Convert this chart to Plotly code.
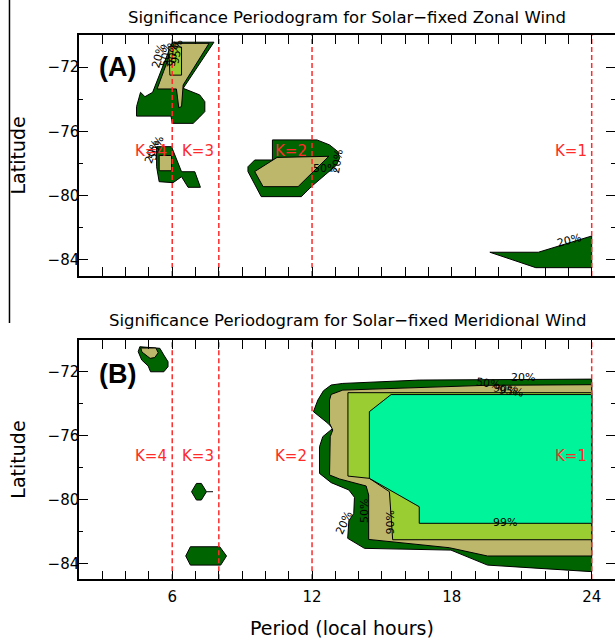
import plotly.graph_objects as go

# ---------------------------------------------------------------------------
# Data: contour polygons (period in local hours, latitude in degrees)
# Significance levels: 20% dark green, 50% khaki, 90% yellow-green, 99% spring green
# ---------------------------------------------------------------------------

# Panel A - solar-fixed zonal wind
zonal_west_20 = [(6.00, -70.45), (7.79, -70.45), (6.47, -73.32), (7.18, -73.73),
                 (7.40, -74.15), (7.40, -74.77), (7.18, -75.10), (6.90, -75.50),
                 (6.00, -75.50), (5.95, -75.05), (4.47, -75.05), (4.47, -74.46),
                 (4.64, -73.57), (4.83, -73.84), (5.16, -73.57)]
zonal_west_50 = [(6.08, -70.52), (7.58, -70.52), (6.47, -73.11), (6.40, -74.46),
                 (6.28, -74.52), (6.18, -73.36), (5.35, -73.36)]
zonal_west_90 = [(5.85, -70.75), (6.40, -70.75), (6.40, -72.50), (5.90, -72.50)]

zonal_k4_20 = [(5.33, -76.95), (5.97, -76.95), (6.40, -78.51), (6.97, -78.51),
               (7.21, -79.48), (6.68, -79.48), (6.40, -78.82), (6.04, -79.19),
               (5.44, -79.13), (5.33, -78.20)]
zonal_k4_50 = [(5.44, -77.50), (5.97, -77.50), (5.97, -78.45), (5.44, -78.45)]

zonal_k2_20 = [(10.30, -76.53), (12.21, -76.53), (12.75, -76.84), (13.11, -77.26),
               (13.18, -77.67), (13.05, -78.10), (12.00, -79.40), (11.54, -80.06),
               (9.82, -80.06), (9.25, -78.50), (9.25, -78.20), (9.54, -77.78),
               (10.30, -77.78)]
zonal_k2_50 = [(9.54, -78.50), (10.50, -77.62), (12.72, -77.55), (12.00, -78.60),
               (11.40, -79.44), (9.90, -79.44)]

zonal_k1_20 = [(19.63, -83.52), (21.71, -83.52), (24.00, -82.51), (24.00, -84.48),
               (21.60, -84.48)]

# Panel B - solar-fixed meridional wind
merid_k4_20 = [(4.61, -70.42), (5.47, -70.52), (5.64, -70.94), (5.82, -71.36),
               (5.82, -71.67), (5.64, -71.99), (5.07, -71.99), (4.97, -71.63),
               (4.69, -71.25), (4.54, -70.73)]
merid_k4_50 = [(4.65, -70.50), (5.30, -70.50), (5.40, -70.80), (5.25, -71.10),
               (5.05, -71.15), (4.85, -70.95), (4.70, -70.75)]

merid_k3a_20 = [(6.83, -79.51), (7.04, -78.99), (7.25, -78.99), (7.47, -79.51),
                (7.25, -80.03), (7.04, -80.03)]
merid_k3a_tail = [(7.47, -79.51), (7.75, -79.51)]
merid_k3b_20 = [(6.58, -83.54), (6.78, -82.96), (8.04, -82.96), (8.33, -83.54),
                (8.08, -84.11), (6.78, -84.11)]

merid_k1_20 = [(24.00, -72.45), (16.60, -72.51), (13.32, -72.72), (12.82, -72.82),
               (12.49, -73.18), (12.25, -73.76), (12.06, -74.49), (12.68, -75.22),
               (12.89, -75.54), (12.46, -76.06), (12.32, -76.69), (12.32, -78.36),
               (12.82, -78.94), (13.58, -79.40), (13.82, -79.86), (13.79, -80.87),
               (13.58, -81.33), (13.53, -82.43), (14.25, -83.06), (15.75, -83.12),
               (17.96, -83.17), (19.53, -84.11), (24.00, -84.52)]
merid_k1_50 = [(24.00, -72.80), (19.46, -72.84), (13.32, -73.14), (12.82, -73.41),
               (12.75, -73.76), (12.75, -75.22), (12.89, -75.64), (12.78, -76.06),
               (12.75, -78.46), (13.18, -78.71), (14.32, -79.15), (14.43, -79.72),
               (14.43, -82.50), (15.75, -82.71), (17.89, -83.02), (19.53, -83.54),
               (24.00, -83.54)]
merid_k1_90 = [(24.00, -73.30), (13.54, -73.30), (13.54, -78.53), (14.46, -78.67),
               (15.32, -79.51), (15.46, -82.52), (24.00, -82.52)]
merid_k1_99 = [(24.00, -73.42), (15.39, -73.42), (14.46, -74.49), (14.46, -78.67),
               (16.60, -80.45), (16.60, -81.49), (24.00, -81.49)]

# Contour labels: (text, period, latitude, rotation)
zonal_labels = [("20%", 5.42, -71.35, -75), ("50%", 5.72, -71.25, -80),
                ("90%", 6.02, -71.25, -80), ("95%", 6.22, -71.05, -80),
                ("20%", 5.15, -77.25, -70), ("50%", 5.30, -77.05, -70),
                ("50%", 12.55, -78.30, 0), ("20%", 13.10, -77.90, -80),
                ("20%", 23.03, -82.78, -15)]
merid_labels = [("20%", 21.06, -72.34, 0), ("50%", 19.53, -72.74, 8),
                ("90%", 20.30, -73.10, 8), ("95%", 20.55, -73.22, 8),
                ("99%", 20.29, -81.47, 0), ("20%", 13.39, -81.45, -65),
                ("50%", 14.28, -80.70, -90), ("90%", 15.38, -81.45, -90)]

# Harmonic periods (24 h / K) marked with dashed lines
K_PERIODS = [6, 8, 12, 24]
K_LABELS = ["K=4", "K=3", "K=2", "K=1"]
K_LABEL_LAT = -77.25

PERIOD_TICKS = [6, 12, 18, 24]
LAT_TICKS = [-72, -76, -80, -84]
PERIOD_RANGE = [2, 25]
LAT_RANGE = [-85, -70]

COL_20 = "#006400"
COL_50 = "#bdb76b"
COL_90 = "#9acd32"
COL_99 = "#00f59a"
RED = "#ff2a2a"
FONT = "DejaVu Sans"

fig = go.Figure()


def add_poly(pts, color, xa, ya):
    xs = [p[0] for p in pts] + [pts[0][0]]
    ys = [p[1] for p in pts] + [pts[0][1]]
    fig.add_trace(go.Scatter(x=xs, y=ys, mode="lines", fill="toself",
                             fillcolor=color, line=dict(color="black", width=1),
                             xaxis=xa, yaxis=ya, hoverinfo="skip",
                             showlegend=False))


def add_line(pts, xa, ya):
    fig.add_trace(go.Scatter(x=[p[0] for p in pts], y=[p[1] for p in pts],
                             mode="lines", line=dict(color="black", width=1),
                             xaxis=xa, yaxis=ya, hoverinfo="skip",
                             showlegend=False))


# Panel A fills
for poly, col in [(zonal_west_20, COL_20), (zonal_west_50, COL_50),
                  (zonal_west_90, COL_90), (zonal_k4_20, COL_20),
                  (zonal_k4_50, COL_50), (zonal_k2_20, COL_20),
                  (zonal_k2_50, COL_50), (zonal_k1_20, COL_20)]:
    add_poly(poly, col, "x", "y")

# Panel B fills
for poly, col in [(merid_k4_20, COL_20), (merid_k4_50, COL_50),
                  (merid_k3a_20, COL_20), (merid_k3b_20, COL_20),
                  (merid_k1_20, COL_20), (merid_k1_50, COL_50),
                  (merid_k1_90, COL_90), (merid_k1_99, COL_99)]:
    add_poly(poly, col, "x2", "y2")
add_line(merid_k3a_tail, "x2", "y2")

# Dashed harmonic lines
for xa, ya in [("x", "y"), ("x2", "y2")]:
    for p in K_PERIODS:
        fig.add_trace(go.Scatter(x=[p, p], y=LAT_RANGE, mode="lines",
                                 line=dict(color=RED, width=1.5, dash="5px,3px"),
                                 xaxis=xa, yaxis=ya, hoverinfo="skip",
                                 showlegend=False))

annotations = []
for (xr, yr), labels in [(("x", "y"), zonal_labels), (("x2", "y2"), merid_labels)]:
    for txt, p, lat, ang in labels:
        annotations.append(dict(x=p, y=lat, xref=xr, yref=yr, text=txt,
                                showarrow=False, textangle=ang,
                                font=dict(family=FONT, size=11, color="black")))
    for p, lab in zip(K_PERIODS, K_LABELS):
        annotations.append(dict(x=p, y=K_LABEL_LAT, xref=xr, yref=yr, text=lab,
                                showarrow=False, xanchor="right", xshift=-3,
                                font=dict(family=FONT, size=15, color=RED)))

annotations.append(dict(x=3.67, y=-72.0, xref="x", yref="y", text="<b>(A)</b>",
                        showarrow=False,
                        font=dict(family="Liberation Sans", size=27, color="black")))
annotations.append(dict(x=3.67, y=-72.13, xref="x2", yref="y2", text="<b>(B)</b>",
                        showarrow=False,
                        font=dict(family="Liberation Sans", size=27, color="black")))


# Titles and axis titles
def paper_text(x, y, text, size, angle=0):
    return dict(x=x, y=y, xref="paper", yref="paper", showarrow=False,
                xanchor="center", yanchor="middle", text=text, textangle=angle,
                font=dict(family=FONT, size=size, color="black"))


annotations += [
    paper_text(0.5, 0.9736,
               "Significance Periodogram for Solar\u2212fixed Zonal Wind", 16.5),
    paper_text(0.5, 0.5016,
               "Significance Periodogram for Solar\u2212fixed Meridional Wind", 16.5),
    paper_text(-0.1138, 0.7585, "Latitude", 19, -90),
    paper_text(-0.1138, 0.2863, "Latitude", 19, -90),
    paper_text(0.4907, 0.0248, "Period (local hours)", 19),
]

x_common = dict(range=PERIOD_RANGE, tickmode="array", tickvals=PERIOD_TICKS,
                ticktext=[str(v) for v in PERIOD_TICKS],
                ticks="inside", ticklen=9, tickwidth=1.3, tickcolor="black",
                minor=dict(ticks="inside", ticklen=4.5, tickwidth=1.2,
                           tickcolor="black", tickmode="linear", tick0=0, dtick=1),
                showline=True, linecolor="black", linewidth=1.5,
                mirror="allticks", showgrid=False, zeroline=False,
                tickfont=dict(family=FONT, size=15, color="black"),
                ticklabelstandoff=3,
                fixedrange=True, domain=[0, 1])
y_common = dict(range=LAT_RANGE, tickmode="array", tickvals=LAT_TICKS,
                ticks="inside", ticklen=9, tickwidth=1.3, tickcolor="black",
                minor=dict(ticks="inside", ticklen=4.5, tickwidth=1.2,
                           tickcolor="black", tickmode="linear", tick0=0, dtick=2),
                showgrid=False, zeroline=False,
                tickfont=dict(family=FONT, size=15, color="black"),
                fixedrange=True)
# left axis with line and labels
y_left = dict(y_common, showline=True, linecolor="black", linewidth=1.5,
              mirror=False, side="left",
              ticktext=["\u2212" + str(abs(v)) for v in LAT_TICKS],
              ticklabelstandoff=-5)
# right edge carries ticks only
y_right = dict(y_common, showline=False, side="right", showticklabels=False)

fig.update_layout(
    width=615, height=644,
    margin=dict(l=79, r=0, t=0, b=0),
    paper_bgcolor="white", plot_bgcolor="white",
    xaxis=dict(x_common, anchor="y", showticklabels=False),
    yaxis=dict(y_left, anchor="x", domain=[0.5714, 0.9457]),
    yaxis3=dict(y_right, anchor="x", overlaying="y"),
    xaxis2=dict(x_common, anchor="y2", showticklabels=True),
    yaxis2=dict(y_left, anchor="x2", domain=[0.10047, 0.4720]),
    yaxis4=dict(y_right, anchor="x2", overlaying="y2"),
    annotations=annotations,
    shapes=[
        # page rule on the far left
        dict(type="line", xref="paper", yref="paper", x0=-0.1297, x1=-0.1297,
             y0=1, y1=0.4984, line=dict(color="black", width=1.5)),
    ],
)

# invisible traces so the right-hand tick axes are drawn
fig.add_trace(go.Scatter(x=PERIOD_RANGE, y=LAT_RANGE, mode="markers",
                         marker=dict(opacity=0), xaxis="x", yaxis="y3",
                         hoverinfo="skip", showlegend=False))
fig.add_trace(go.Scatter(x=PERIOD_RANGE, y=LAT_RANGE, mode="markers",
                         marker=dict(opacity=0), xaxis="x2", yaxis="y4",
                         hoverinfo="skip", showlegend=False))

fig.write_html("out.html")
